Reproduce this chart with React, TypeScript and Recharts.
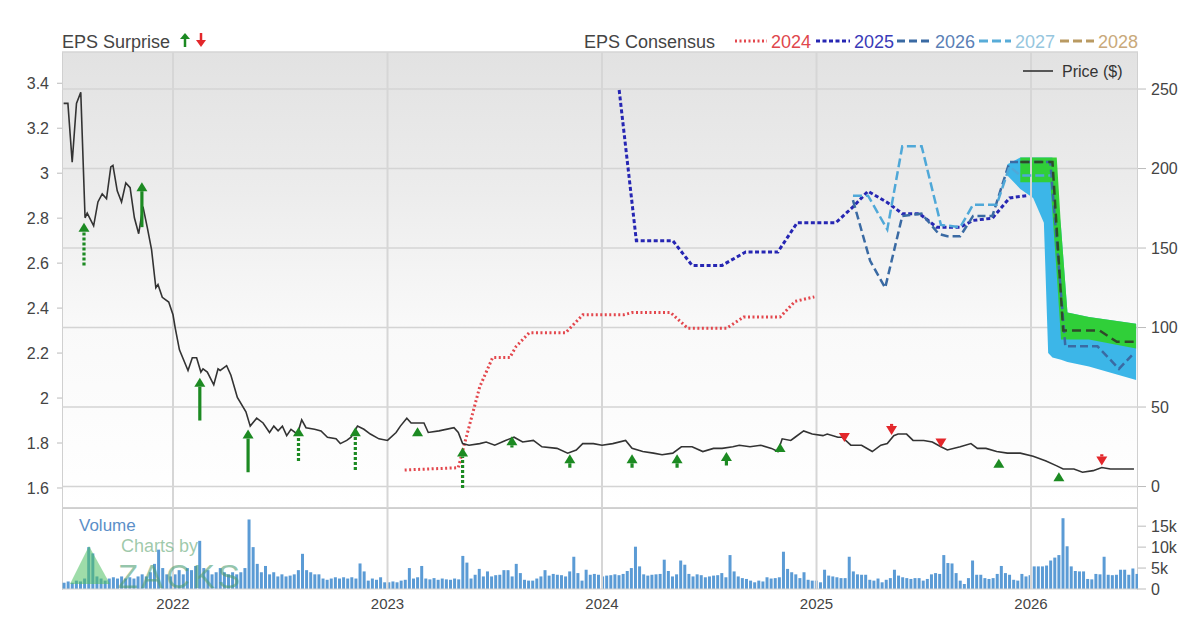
import { ComposedChart, Line, Area, Bar, XAxis, YAxis, CartesianGrid, ReferenceLine } from 'recharts';

const FONT = '"Liberation Sans", Arial, Helvetica, sans-serif';

// time axis in decimal years
const X_START = 2021.4825;
const X_END = 2026.4988;
const YEAR_TICKS = [2022, 2023, 2024, 2025, 2026];

const EPS_TICKS = [1.6, 1.8, 2, 2.2, 2.4, 2.6, 2.8, 3, 3.2, 3.4];
const EPS_DOMAIN: [number, number] = [1.511, 3.539];
const PRICE_TICKS = [0, 50, 100, 150, 200, 250];
const PRICE_DOMAIN: [number, number] = [-13.5, 273.3];
const VOLUME_TICKS = [0, 5, 10, 15];
const VOLUME_DOMAIN: [number, number] = [0, 19.1];

// [year, price $]
const PRICE: [number, number][] = [
  [2021.49, 241], [2021.51, 241], [2021.53, 204], [2021.55, 241], [2021.57, 248], [2021.59, 169], [2021.6, 172],
  [2021.63, 164], [2021.65, 179], [2021.67, 184], [2021.69, 181], [2021.71, 201], [2021.72, 202], [2021.74, 186],
  [2021.76, 179], [2021.78, 191], [2021.8, 188], [2021.82, 169], [2021.84, 159], [2021.86, 176], [2021.88, 163],
  [2021.9, 149], [2021.92, 125], [2021.93, 127], [2021.95, 119], [2021.98, 116], [2022.0, 108], [2022.01, 100],
  [2022.03, 86], [2022.07, 73], [2022.09, 81], [2022.11, 81], [2022.13, 72], [2022.14, 74], [2022.16, 72],
  [2022.19, 64], [2022.21, 74], [2022.22, 73], [2022.25, 76], [2022.27, 70], [2022.3, 56], [2022.34, 47],
  [2022.36, 38], [2022.39, 43], [2022.42, 40], [2022.45, 34], [2022.47, 38], [2022.49, 35], [2022.51, 38],
  [2022.53, 32], [2022.55, 36], [2022.58, 33], [2022.6, 42], [2022.62, 37], [2022.66, 36], [2022.69, 35],
  [2022.72, 31], [2022.76, 30], [2022.78, 27], [2022.81, 29], [2022.83, 31], [2022.86, 38], [2022.89, 36],
  [2022.92, 33], [2022.96, 30], [2023.0, 29], [2023.04, 34], [2023.06, 38], [2023.09, 43], [2023.11, 40],
  [2023.17, 40], [2023.19, 34], [2023.24, 35], [2023.31, 37], [2023.33, 34], [2023.35, 27], [2023.38, 26],
  [2023.43, 27], [2023.46, 28], [2023.5, 26], [2023.55, 29], [2023.59, 31], [2023.63, 28], [2023.68, 29],
  [2023.72, 25], [2023.79, 24], [2023.84, 21], [2023.88, 23], [2023.91, 27], [2023.96, 27], [2024.0, 26],
  [2024.05, 27], [2024.11, 29], [2024.14, 24], [2024.19, 22], [2024.24, 21], [2024.28, 20], [2024.33, 21],
  [2024.37, 25], [2024.42, 25], [2024.47, 22], [2024.52, 24], [2024.56, 24], [2024.61, 25], [2024.64, 26],
  [2024.69, 25], [2024.74, 26], [2024.79, 24], [2024.82, 22], [2024.84, 30], [2024.88, 29], [2024.9, 31],
  [2024.94, 35], [2024.98, 33], [2025.03, 32], [2025.05, 33], [2025.1, 31], [2025.12, 31], [2025.16, 26],
  [2025.21, 26], [2025.26, 22], [2025.3, 26], [2025.33, 27], [2025.36, 32], [2025.38, 33], [2025.42, 33],
  [2025.45, 29], [2025.5, 29], [2025.54, 28], [2025.58, 25], [2025.61, 23], [2025.67, 25], [2025.72, 27],
  [2025.75, 24], [2025.79, 24], [2025.84, 22], [2025.89, 21], [2025.95, 21], [2026.01, 19], [2026.07, 16],
  [2026.12, 13], [2026.15, 11], [2026.2, 11], [2026.24, 9], [2026.29, 10], [2026.33, 12], [2026.37, 11],
  [2026.43, 11], [2026.48, 11],
];

// EPS consensus, [year, EPS]
const EPS_2024: [number, number][] = [
  [2023.08, 1.68], [2023.33, 1.69], [2023.36, 1.8], [2023.43, 2.05], [2023.49, 2.18], [2023.57, 2.18],
  [2023.6, 2.23], [2023.66, 2.29], [2023.83, 2.29], [2023.91, 2.37], [2024.1, 2.37], [2024.14, 2.38],
  [2024.32, 2.38], [2024.4, 2.31], [2024.58, 2.31], [2024.66, 2.36], [2024.83, 2.36], [2024.9, 2.43],
  [2024.99, 2.45],
];
const EPS_2025: [number, number][] = [
  [2024.08, 3.37], [2024.16, 2.7], [2024.33, 2.7], [2024.42, 2.59], [2024.56, 2.59], [2024.67, 2.65],
  [2024.82, 2.65], [2024.91, 2.78], [2025.09, 2.78], [2025.17, 2.85], [2025.24, 2.92], [2025.33, 2.87],
  [2025.4, 2.82], [2025.48, 2.82], [2025.56, 2.76], [2025.67, 2.76], [2025.73, 2.79], [2025.82, 2.8],
  [2025.9, 2.89], [2025.98, 2.9],
];
const EPS_2026: [number, number][] = [
  [2025.17, 2.88], [2025.25, 2.61], [2025.32, 2.49], [2025.4, 2.81], [2025.49, 2.82], [2025.57, 2.73],
  [2025.61, 2.72], [2025.67, 2.72], [2025.73, 2.81], [2025.82, 2.81], [2025.9, 3.05], [2026.09, 3.05],
  [2026.16, 2.23], [2026.31, 2.23], [2026.41, 2.13], [2026.47, 2.19],
];
const EPS_2027: [number, number][] = [
  [2025.17, 2.9], [2025.24, 2.9], [2025.33, 2.75], [2025.4, 3.12], [2025.49, 3.12], [2025.58, 2.77],
  [2025.67, 2.76], [2025.73, 2.86], [2025.84, 2.86], [2025.9, 3.03], [2025.95, 2.99], [2026.09, 2.99],
];
const EPS_2028: [number, number][] = [
  [2025.95, 3.05], [2026.1, 3.05], [2026.15, 2.3], [2026.32, 2.3], [2026.4, 2.25], [2026.48, 2.25],
];

// estimate ranges, [year, low, high]
const RANGE_CYAN: [number, number, number][] = [
  [2025.89, 2.99, 3.04], [2025.95, 2.93, 3.07], [2026.01, 2.89, 3.07], [2026.06, 2.78, 3.07],
  [2026.08, 2.2, 3.07], [2026.1, 2.18, 3.07], [2026.14, 2.17, 2.76], [2026.17, 2.16, 2.38],
  [2026.27, 2.14, 2.36], [2026.49, 2.08, 2.33],
];
const RANGE_GREEN: [number, number, number][] = [
  [2025.95, 2.96, 3.07], [2026.09, 2.96, 3.07], [2026.12, 2.55, 3.07], [2026.14, 2.26, 2.76],
  [2026.17, 2.26, 2.38], [2026.27, 2.26, 2.36], [2026.49, 2.22, 2.33],
];

// EPS surprises: [year, estimate, actual, dotted]
const SURPRISES: [number, number, number, boolean][] = [
  [2021.585, 2.59, 2.78, true], [2021.855, 2.76, 2.96, false], [2022.125, 1.9, 2.09, false],
  [2022.35, 1.67, 1.86, false], [2022.585, 1.72, 1.87, true], [2022.85, 1.68, 1.87, true],
  [2023.14, 1.83, 1.87, false], [2023.35, 1.6, 1.78, true], [2023.58, 1.78, 1.83, false],
  [2023.85, 1.69, 1.75, false], [2024.14, 1.69, 1.75, false], [2024.35, 1.69, 1.75, false],
  [2024.58, 1.7, 1.76, false], [2024.83, 1.76, 1.8, false], [2025.13, 1.845, 1.805, false],
  [2025.35, 1.885, 1.836, false], [2025.58, 1.82, 1.78, false], [2025.85, 1.69, 1.73, false],
  [2026.13, 1.63, 1.67, false], [2026.33, 1.75, 1.7, false],
];

// weekly volume (thousands), first week starts here
const VOLUME_START = 2021.49;
const VOLUME_K: number[] = [
  1.5, 1.8, 1.5, 2.0, 1.8, 2.5, 10, 8.5, 3, 2.5,
  2, 2.5, 2.8, 2.5, 3, 2.5, 2.8, 2.5, 3, 3.5,
  3, 4, 6, 9.4, 5, 3.5, 3, 3.5, 4.5, 3.5,
  5, 4.5, 5.5, 11.5, 5, 4.5, 3.5, 4, 5, 4,
  3.5, 4, 3.5, 4, 5, 16.6, 10, 6, 4, 5.5,
  3.5, 4, 3, 3.5, 3, 3.2, 3.5, 4.5, 8.4, 4.5,
  4, 3.5, 3.5, 2.5, 2.2, 2.5, 2.8, 2.5, 2.8, 2.5,
  2.8, 2.5, 6.1, 4.2, 2, 2.5, 2.2, 2.8, 1.6, 1.6,
  1.8, 1.6, 2, 2.2, 5, 2.5, 2.8, 5.5, 2.5, 2.3,
  2.6, 2.2, 2.5, 2.3, 2.2, 2.5, 2.3, 7.9, 6.3, 2.5,
  3.4, 4.8, 3, 4.2, 3, 3.3, 3.4, 4.5, 4.5, 3,
  6, 3.8, 2.2, 2, 2, 2.5, 3, 4.5, 3.2, 3.6,
  3.4, 3.3, 3.0, 4.2, 7.7, 3.8, 2.0, 4.6, 3.4, 3.6,
  3.4, 3.0, 3.2, 3.3, 3.5, 3.3, 3.6, 4.3, 5.0, 10.1,
  5.4, 3.5, 3.2, 3.4, 3.5, 3.6, 7.0, 4.3, 3.0, 3.5,
  6.8, 5.8, 3.6, 3.0, 3.5, 3.3, 2.8, 3.0, 3.2, 3.3,
  3.8, 2.8, 8.1, 4.2, 3.0, 2.6, 2.4, 2.0, 1.6, 2.0,
  1.8, 2.8, 2.5, 2.6, 2.8, 8.9, 4.8, 4.0, 3.5, 2.6,
  4.0, 2.2, 2.0, 2.0, 1.6, 4.6, 3.2, 3.0, 2.8, 2.6,
  2.6, 7.7, 4.2, 3.5, 3.4, 3.4, 2.2, 2.0, 2.5, 1.6,
  2.2, 2.6, 4.6, 3.2, 2.8, 2.6, 2.4, 2.6, 2.6, 2.0,
  2.4, 3.5, 3.8, 3.6, 8.1, 6.2, 6.1, 3.8, 2.0, 1.2,
  2.6, 6.8, 3.4, 3.4, 2.6, 2.4, 2.6, 3.6, 5.5, 3.8,
  3.4, 2.2, 2.0, 3.6, 3.0, 3.3, 5.4, 5.4, 5.4, 5.6,
  6.8, 7.5, 8.1, 16.9, 10.2, 5.4, 4.3, 4.2, 4.2, 2.4,
  2.3, 3.6, 3.5, 7.7, 3.4, 3.3, 3.4, 4.6, 4.6, 3.4, 4.9, 3.6,
];

const pts = (rows: [number, number][]) => rows.map(([t, v]) => ({ t, v }));
const bands = (rows: [number, number, number][]) => rows.map(([t, lo, hi]) => ({ t, r: [lo, hi] }));
const volumeRows = VOLUME_K.map((v, i) => ({ t: VOLUME_START + (i * 7) / 365.25, v }));

const CONSENSUS = [
  { name: '2024', rows: EPS_2024, stroke: '#e3474d', dash: '2 2.5', width: 3 },
  { name: '2025', rows: EPS_2025, stroke: '#2626b3', dash: '4 2.5', width: 3 },
  { name: '2026', rows: EPS_2026, stroke: '#3a6aa3', dash: '8 4', width: 2.5 },
  { name: '2027', rows: EPS_2027, stroke: '#4fa8d8', dash: '9 4', width: 2.5 },
  { name: '2028', rows: EPS_2028, stroke: '#2f4a2a', dash: '9 5', width: 2.5 },
];

const LEGEND = [
  { name: '2024', x: 735, w: 32, stroke: '#e3474d', text: '#e0474c', dash: '2 2.5' },
  { name: '2025', x: 816, w: 34, stroke: '#2626b3', text: '#3a3ab8', dash: '4 2.5' },
  { name: '2026', x: 897, w: 34, stroke: '#3a6aa3', text: '#5a80b6', dash: '8 4' },
  { name: '2027', x: 979, w: 32, stroke: '#58acd8', text: '#96c6de', dash: '9 4' },
  { name: '2028', x: 1060, w: 34, stroke: '#b99a62', text: '#c9a97a', dash: '9 4' },
];

const arrowShape = (color: string, dotted: boolean) => (p: any) => {
  const { x1, y1, x2, y2 } = p;
  const dir = y2 < y1 ? 1 : -1;
  const base = y2 + dir * 9;
  return (
    <g>
      <line x1={x1} y1={y1} x2={x2} y2={base} stroke={color} strokeWidth={3.2} strokeDasharray={dotted ? '3 2' : undefined} />
      <polygon points={`${x2 - 5.5},${base} ${x2 + 5.5},${base} ${x2},${y2}`} fill={color} />
    </g>
  );
};

const tickStyle = { fill: '#444', fontSize: 16 };

export default function App() {
  return (
    <div style={{ position: 'absolute', left: 0, top: 0, width: 1200, height: 621, background: 'white', fontFamily: FONT }}>
      <div style={{ position: 'absolute', left: 62, top: 52, width: 1076, height: 456, boxSizing: 'border-box',
        background: 'linear-gradient(to bottom, #e2e2e2 0%, #ececec 30%, #f9f9f9 60%, #ffffff 100%)',
        borderLeft: '1px solid #d0d0d0', borderRight: '1px solid #d0d0d0' }} />
      <div style={{ position: 'absolute', left: 62, top: 507, width: 1076, height: 83, boxSizing: 'border-box',
        borderTop: '2px solid #cfcfcf', borderLeft: '1px solid #d0d0d0', borderRight: '1px solid #d0d0d0' }} />

      <div style={{ position: 'absolute', left: 0, top: 0 }}>
        <ComposedChart width={1200} height={508} margin={{ top: 52, right: 12, bottom: 0, left: 22 }}>
          <XAxis dataKey="t" type="number" domain={[X_START, X_END]} allowDataOverflow hide ticks={YEAR_TICKS} />
          <YAxis yAxisId="eps" orientation="left" width={40} domain={EPS_DOMAIN} ticks={EPS_TICKS} allowDataOverflow
            interval={0} axisLine={false} tickLine={{ stroke: '#bbb' }} tickSize={5} tickMargin={8} tick={tickStyle}
            tickFormatter={(v: number) => String(Number(v.toFixed(1)))} />
          <YAxis yAxisId="price" orientation="right" width={50} domain={PRICE_DOMAIN} ticks={PRICE_TICKS} allowDataOverflow
            interval={0} axisLine={false} tickLine={{ stroke: '#bbb' }} tickSize={8} tickMargin={5} tick={tickStyle} />
          <CartesianGrid yAxisId="price" vertical={false} stroke="#d4d4d4" strokeWidth={1.5} />
          {YEAR_TICKS.map((y) => (
            <ReferenceLine key={y} x={y} yAxisId="price" stroke="#d6d6d6" strokeWidth={2} />
          ))}
          <Area yAxisId="eps" data={bands(RANGE_CYAN)} dataKey="r" type="linear" stroke="none" fill="#3cb6e8" fillOpacity={1} isAnimationActive={false} />
          <Area yAxisId="eps" data={bands(RANGE_GREEN)} dataKey="r" type="linear" stroke="none" fill="#2fd12f" fillOpacity={0.95} isAnimationActive={false} />
          {CONSENSUS.map((c) => (
            <Line key={c.name} yAxisId="eps" data={pts(c.rows)} dataKey="v" type="linear" stroke={c.stroke}
              strokeWidth={c.width} strokeDasharray={c.dash} dot={false} activeDot={false} isAnimationActive={false} />
          ))}
          <Line yAxisId="price" data={pts(PRICE)} dataKey="v" type="linear" stroke="#333" strokeWidth={1.6}
            dot={false} activeDot={false} isAnimationActive={false} />
          {SURPRISES.map(([t, est, act, dotted], i) => (
            <ReferenceLine key={`s${i}`} yAxisId="eps" segment={[{ x: t, y: est }, { x: t, y: act }]}
              shape={arrowShape(act >= est ? '#1c8a22' : '#e3272b', dotted)} />
          ))}
        </ComposedChart>
      </div>

      <div style={{ position: 'absolute', left: 0, top: 508 }}>
        <ComposedChart width={1200} height={112} data={volumeRows} margin={{ top: 1, right: 12, bottom: 2, left: 62 }}>
          <XAxis dataKey="t" type="number" domain={[X_START, X_END]} allowDataOverflow ticks={YEAR_TICKS} interval={0}
            tickFormatter={(v: number) => String(v)} tickLine={false} tickSize={0} tickMargin={9} height={29}
            axisLine={{ stroke: '#d0d0d0' }} tick={{ fill: '#444', fontSize: 15 }} />
          <YAxis yAxisId="vol" orientation="right" width={50} domain={VOLUME_DOMAIN} ticks={VOLUME_TICKS} allowDataOverflow
            interval={0} axisLine={false} tickLine={{ stroke: '#bbb' }} tickSize={8} tickMargin={5} tick={tickStyle}
            tickFormatter={(v: number) => (v === 0 ? '0' : `${v}k`)} />
          {YEAR_TICKS.map((y) => (
            <ReferenceLine key={y} x={y} yAxisId="vol" stroke="#d6d6d6" strokeWidth={2} />
          ))}
          <Bar yAxisId="vol" dataKey="v" barSize={3} fill="#5b9bd5" isAnimationActive={false} />
        </ComposedChart>
      </div>

      <svg width={1200} height={621} style={{ position: 'absolute', left: 0, top: 0, pointerEvents: 'none' }}>
        <text x={62} y={48} fontSize={18} fill="#444">EPS Surprise</text>
        <line x1={185} y1={47} x2={185} y2={38} stroke="#1c8a22" strokeWidth={2.5} />
        <polygon points="180,39 190,39 185,33" fill="#1c8a22" />
        <line x1={201} y1={33} x2={201} y2={41} stroke="#e3272b" strokeWidth={2.5} />
        <polygon points="196,40 206,40 201,47" fill="#e3272b" />

        <text x={584} y={48} fontSize={18} fill="#444">EPS Consensus</text>
        {LEGEND.map((l) => (
          <g key={l.name}>
            <line x1={l.x} y1={41} x2={l.x + l.w} y2={41} stroke={l.stroke} strokeWidth={3} strokeDasharray={l.dash} />
            <text x={l.x + l.w + 4} y={48} fontSize={18} fill={l.text}>{l.name}</text>
          </g>
        ))}

        <line x1={1023} y1={71} x2={1053} y2={71} stroke="#333" strokeWidth={1.6} />
        <text x={1062} y={77} fontSize={16} fill="#333">Price ($)</text>

        <text x={79} y={531} fontSize={17} fill="#5b8fc8">Volume</text>
        <polygon points="70,584 89,546 110,584" fill="#4fbf62" fillOpacity={0.55} />
        <text x={121} y={552} fontSize={18} fill="#7fb88f" fillOpacity={0.75}>Charts by</text>
        <text x={118} y={588} fontSize={33} fill="#4d9e72" fillOpacity={0.6} letterSpacing={3}>ZACKS</text>
      </svg>
    </div>
  );
}
